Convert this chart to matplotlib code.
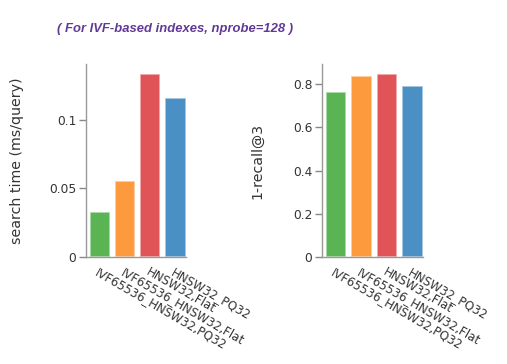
import numpy as np
import matplotlib.pyplot as plt

# index names, in bar order
indexes = ['IVF65536_HNSW32,PQ32', 'IVF65536_HNSW32,Flat', 'HNSW32,Flat', 'HNSW32_PQ32']
search_time = [0.033, 0.0556, 0.1334, 0.1161]
recall = [0.764, 0.839, 0.848, 0.790]
colors = ['#5ab454', '#fd9a3e', '#e05356', '#4a90c5']

plt.rcParams['font.family'] = 'DejaVu Sans'

fig = plt.figure(figsize=(5.07, 3.64), dpi=100)
W, H = 507.0, 364.0

def make_axes(x0, x1, y0, y1):
    return fig.add_axes([x0 / W, 1 - y1 / H, (x1 - x0) / W, (y1 - y0) / H])

ax1 = make_axes(86, 186, 64, 257)
ax2 = make_axes(322, 423, 64, 257)

x = np.arange(len(indexes))
for ax, vals, ymax, yt, ytl, lab in [
        (ax1, search_time, 0.1407, [0, 0.05, 0.1], ['0', '0.05', '0.1'], 'search time (ms/query)'),
        (ax2, recall, 0.894, [0, 0.2, 0.4, 0.6, 0.8], ['0', '0.2', '0.4', '0.6', '0.8'], '1-recall@3')]:
    ax.bar(x, vals, width=0.8, color=colors, edgecolor=(1, 1, 1, 0.6), linewidth=1.2)
    ax.set_xlim(-0.54, 3.41)
    ax.set_ylim(0, ymax)
    ax.set_yticks(yt)
    ax.set_yticklabels(ytl)
    ax.set_xticks(x)
    ax.set_xticklabels(indexes, rotation=-30, ha='left', va='top', rotation_mode='anchor')
    ax.tick_params(axis='x', length=0, pad=6, labelsize=8.6, labelcolor='#333333')
    ax.tick_params(axis='y', length=5, width=1, color='#888888', labelsize=8.8, labelcolor='#333333', pad=2)
    for s in ['top', 'right']:
        ax.spines[s].set_visible(False)
    for s in ['left', 'bottom']:
        ax.spines[s].set_color('#999999')
        ax.spines[s].set_linewidth(1)
    ax.set_ylabel(lab, fontsize=10.2, color='#333333')

ax1.yaxis.set_label_coords((24 - 86) / 100.0, 0.5)
ax2.yaxis.set_label_coords((264 - 322) / 101.0, 0.5)

fig.text(57 / W, 1 - 29 / H, '( For IVF-based indexes, nprobe=128 )', fontsize=9.4,
         fontstyle='italic', fontweight='bold', color='#623a96', ha='left', va='center',
         family='Liberation Sans')

fig.savefig('out.png', dpi=100)
